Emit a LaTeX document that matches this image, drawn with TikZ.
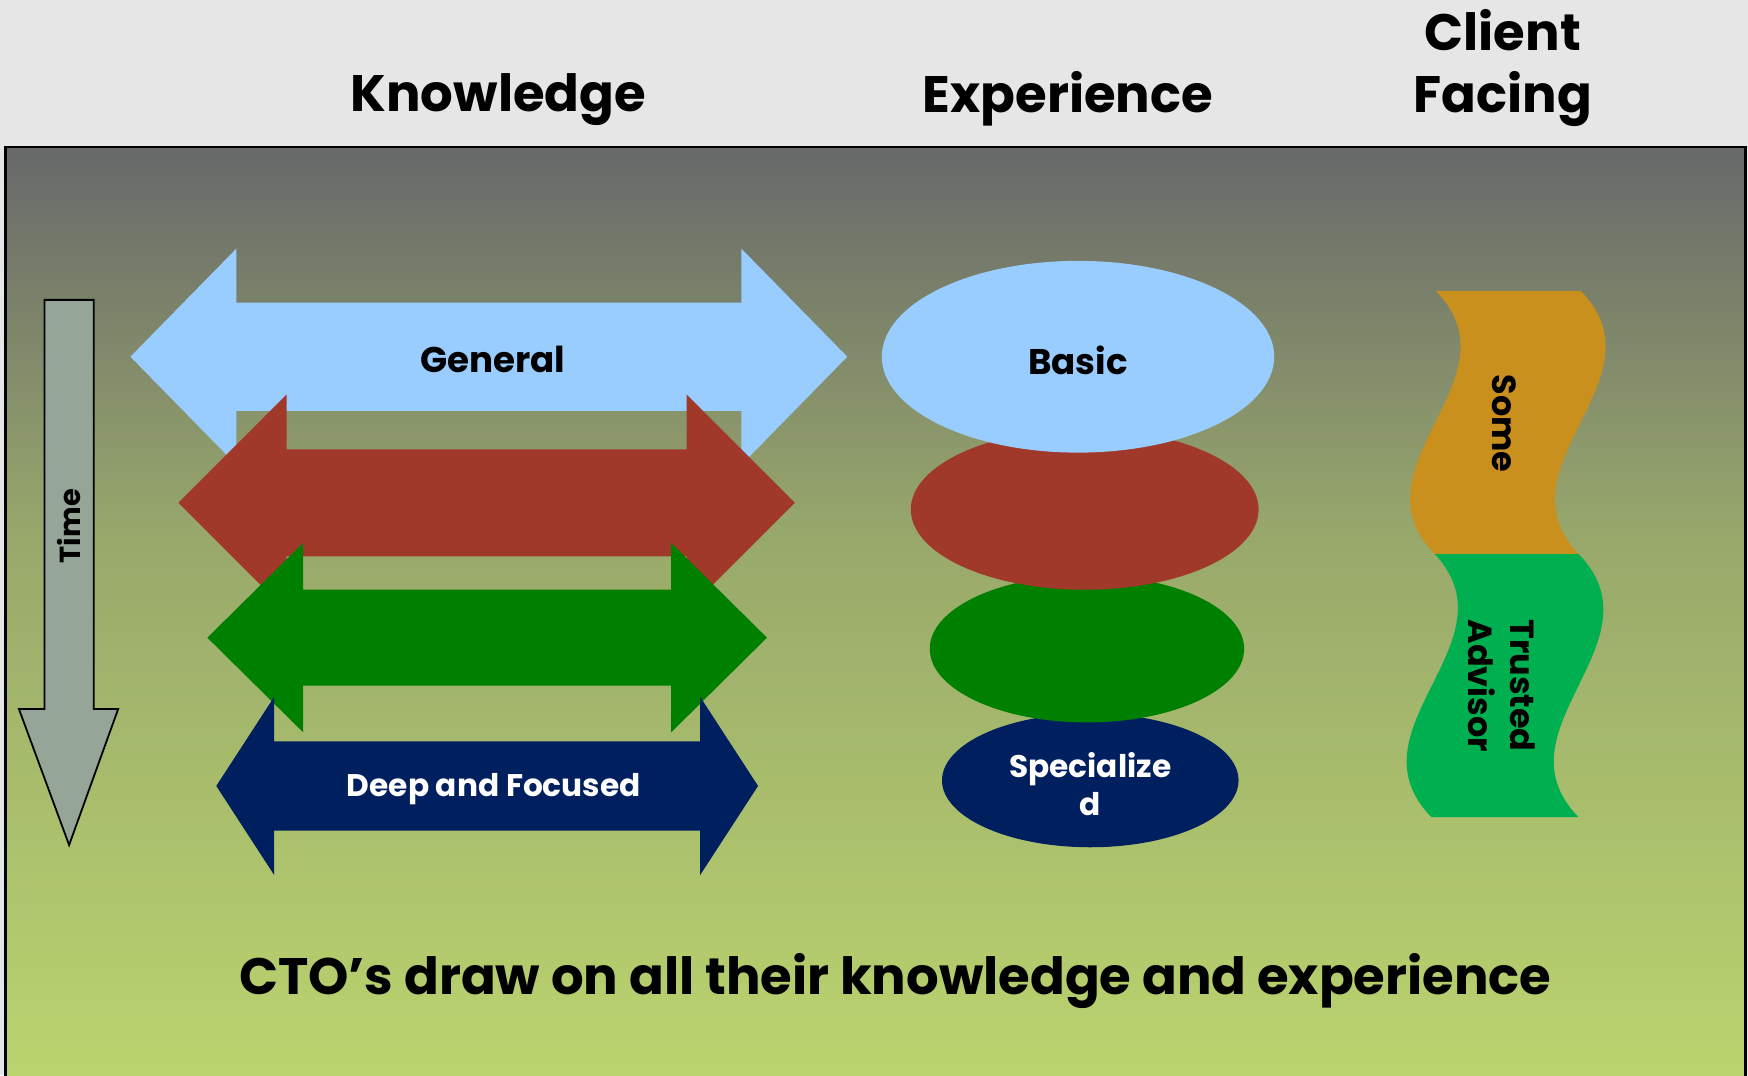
\documentclass[tikz,border=0pt]{standalone}
\usepackage{fontspec}
\setmainfont{Poppins}
\definecolor{bgtop}{HTML}{E6E6E6}
\definecolor{pantop}{HTML}{67686A}
\definecolor{panmid}{HTML}{98A86B}
\definecolor{panbot}{HTML}{BBD46E}
\definecolor{lblue}{HTML}{99CCFF}
\definecolor{brick}{HTML}{A0392A}
\definecolor{kgreen}{HTML}{008000}
\definecolor{navy}{HTML}{001F5F}
\definecolor{timefill}{HTML}{95A598}
\definecolor{ochre}{HTML}{C9901E}
\definecolor{wgreen}{HTML}{00B050}
\tikzset{
  hdr/.style={font=\bfseries\fontsize{23}{28}\selectfont, align=center, text=black, inner sep=0pt},
  lbl/.style={font=\bfseries\fontsize{16}{20}\selectfont, align=center, inner sep=0pt},
  small/.style={font=\bfseries\fontsize{14}{17}\selectfont, align=center, inner sep=0pt},
}
\begin{document}
\begin{tikzpicture}[x=0.5pt,y=-0.5pt]
\useasboundingbox (0,0) rectangle (1568,964.3);
% background
\fill[bgtop] (0,0) rectangle (1568,964.3);
\shade[top color=pantop, bottom color=panmid] (5,132) rectangle (1566,480);
\shade[top color=panmid, bottom color=panbot] (5,479) rectangle (1566,964.3);
\draw[black, line width=1.2pt] (5,970) -- (5,132) -- (1566,132) -- (1566,970);
% headers
\node[hdr] (hk) at (447,89) {Knowledge};
\node[hdr] (he) at (958,89) {Experience};
\node[hdr] (hc) at (1348,61) {Client\\Facing};
% time arrow
\draw[fill=timefill, line width=0.8pt, line join=miter] (40,269) -- (84,269) -- (84,636) -- (106,636) -- (62,758) -- (17,636) -- (40,636) -- cycle;
\node[small, font=\bfseries\fontsize{13}{15}\selectfont, rotate=90] (time) at (62,472) {Time};
% knowledge arrows
\fill[lblue] (117,320) -- (212,223) -- (212,271.5) -- (665,271.5) -- (665,223) -- (760,320) -- (665,417) -- (665,368.5) -- (212,368.5) -- (212,417) -- cycle;
\node[lbl] (gen) at (442,322) {General};
\fill[brick] (160,451) -- (257,354) -- (257,403) -- (616,403) -- (616,354) -- (713,451) -- (616,548) -- (616,499) -- (257,499) -- (257,548) -- cycle;
\fill[kgreen] (186,572) -- (272,487) -- (272,529) -- (602,529) -- (602,487) -- (688,572) -- (602,657) -- (602,615) -- (272,615) -- (272,657) -- cycle;
\fill[navy] (194,705) -- (246,625) -- (246,665) -- (628,665) -- (628,625) -- (680,705) -- (628,785) -- (628,745) -- (246,745) -- (246,785) -- cycle;
\node[small, text=white] (deep) at (443,708) {Deep and Focused};
% experience ellipses
\fill[navy] (978,700) ellipse [x radius=133, y radius=60];
\fill[kgreen] (975,582) ellipse [x radius=141, y radius=66];
\fill[brick] (973,457) ellipse [x radius=156, y radius=72];
\fill[lblue] (967,320) ellipse [x radius=176, y radius=86];
\node[lbl] (basic) at (967,323) {Basic};
\node[small, text=white] (spec) at (978,703) {Specialize\\d};
% client facing waves
\fill[ochre] (1288,261) -- (1418,261) .. controls (1495,339.7) and (1341,418.3) .. (1416,497) -- (1287,497) .. controls (1210,418.3) and (1365,339.7) .. (1288,261) -- cycle;
\fill[wgreen] (1287,497) -- (1416,497) .. controls (1493,575.7) and (1339,654.3) .. (1416,733) -- (1284,733) .. controls (1207,654.3) and (1361,575.7) .. (1287,497) -- cycle;
\node[lbl, font=\bfseries\fontsize{15}{19}\selectfont, rotate=-90] (some) at (1349,380) {Some};
\node[lbl, font=\bfseries\fontsize{15}{19}\selectfont, rotate=-90] (ta) at (1347,615) {Trusted\\Advisor};
% bottom text
\node[hdr] (cto) at (803,880) {CTO’s draw on all their knowledge and experience};
\end{tikzpicture}
\end{document}
